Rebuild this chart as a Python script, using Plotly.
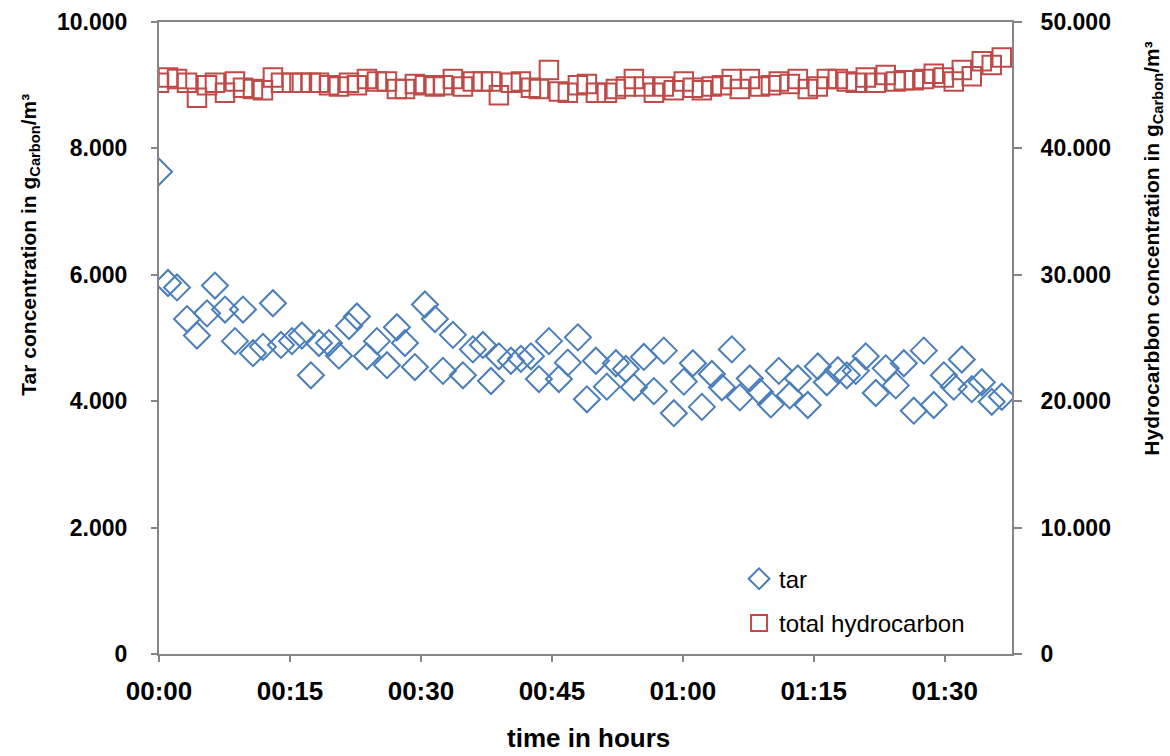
import plotly.graph_objects as go

# time of each sample in minutes after start
time_min = [0.00, 1.03, 2.06, 3.21, 4.35, 5.50, 6.41, 7.56, 8.70, 9.62,
            10.76, 11.91, 13.05, 13.97, 15.23, 16.37, 17.40, 18.32, 19.47, 20.61,
            21.76, 22.67, 23.82, 24.96, 26.11, 27.25, 28.17, 29.31, 30.46, 31.60,
            32.52, 33.66, 34.81, 35.95, 37.10, 38.02, 38.93, 40.31, 41.45, 42.60,
            43.51, 44.66, 45.80, 46.83, 47.98, 49.01, 50.04, 51.30, 52.33, 53.47,
            54.39, 55.53, 56.68, 57.82, 58.97, 60.11, 61.15, 62.18, 63.32, 64.47,
            65.61, 66.53, 67.67, 68.82, 70.08, 70.99, 72.25, 73.17, 74.31, 75.46,
            76.49, 77.75, 78.78, 79.81, 80.95, 82.10, 83.24, 84.39, 85.31, 86.45,
            87.60, 88.74, 89.89, 91.03, 91.95, 93.09, 94.24, 95.38, 96.53]

tar = [7.63, 5.87, 5.80, 5.30, 5.04, 5.39, 5.83, 5.45, 4.95, 5.45,
       4.76, 4.86, 5.55, 4.89, 4.95, 5.04, 4.41, 4.92, 4.92, 4.72,
       5.19, 5.34, 4.71, 4.95, 4.57, 5.17, 4.92, 4.54, 5.53, 5.30,
       4.48, 5.05, 4.41, 4.82, 4.89, 4.32, 4.71, 4.64, 4.67, 4.71,
       4.35, 4.95, 4.35, 4.61, 5.01, 4.03, 4.64, 4.23, 4.60, 4.51,
       4.22, 4.70, 4.16, 4.80, 3.81, 4.31, 4.60, 3.91, 4.43, 4.22,
       4.82, 4.06, 4.36, 4.15, 3.95, 4.48, 4.09, 4.36, 3.94, 4.55,
       4.30, 4.49, 4.41, 4.48, 4.71, 4.13, 4.52, 4.25, 4.60, 3.85,
       4.80, 3.94, 4.41, 4.23, 4.66, 4.19, 4.30, 3.99, 4.07]

hydrocarbon = [45.2, 45.6, 45.5, 45.2, 44.0, 45.0, 45.2, 44.4, 45.3, 44.8,
               44.7, 44.6, 45.6, 45.2, 45.2, 45.2, 45.2, 45.2, 45.0, 44.9,
               45.2, 45.0, 45.5, 45.3, 45.3, 44.7, 44.7, 45.1, 45.0, 44.9,
               45.0, 45.5, 44.9, 45.3, 45.3, 45.3, 44.2, 45.2, 45.3, 44.8,
               44.7, 46.2, 44.5, 44.4, 45.0, 45.1, 44.4, 44.4, 44.7, 44.9,
               45.5, 44.9, 44.4, 44.9, 44.6, 45.3, 44.8, 44.6, 44.9, 45.0,
               45.5, 44.7, 45.5, 44.9, 45.0, 45.3, 45.1, 45.5, 44.7, 44.9,
               45.5, 45.5, 45.3, 45.2, 45.6, 45.2, 45.8, 45.3, 45.4, 45.4,
               45.5, 45.9, 45.6, 45.3, 46.2, 45.7, 46.9, 46.6, 47.2]

x_tick_vals = [0, 15, 30, 45, 60, 75, 90]
x_tick_text = ["00:00", "00:15", "00:30", "00:45", "01:00", "01:15", "01:30"]
tar_tick_vals = [0, 2, 4, 6, 8, 10]
tar_tick_text = ["0", "2.000", "4.000", "6.000", "8.000", "10.000"]
hc_tick_vals = [0, 10, 20, 30, 40, 50]
hc_tick_text = ["0", "10.000", "20.000", "30.000", "40.000", "50.000"]

AXIS = "#868686"
BLUE = "#4A7EBB"
RED = "#BE4B48"
FONT = "Liberation Sans, Arial, sans-serif"

fig = go.Figure()
fig.add_trace(go.Scatter(
    x=time_min, y=tar, mode="markers", name="tar", legendgroup="a",
    marker=dict(symbol="diamond-open", size=20, color=BLUE, line=dict(width=2, color=BLUE)),
    yaxis="y"))
fig.add_trace(go.Scatter(
    x=time_min, y=hydrocarbon, mode="markers", name="total hydrocarbon", legendgroup="b",
    marker=dict(symbol="square-open", size=18.5, color=RED, line=dict(width=2, color=RED)),
    yaxis="y2"))

fig.update_layout(
    width=1170, height=756,
    margin=dict(l=159, r=158, t=22, b=102, autoexpand=False),
    paper_bgcolor="white", plot_bgcolor="white",
    showlegend=True,
    legend=dict(x=0.68, y=0.154, xanchor="left", yanchor="top",
                bgcolor="rgba(0,0,0,0)", traceorder="grouped", tracegroupgap=10,
                font=dict(family=FONT, size=24, color="black")),
    xaxis=dict(range=[0, 97.7], tickmode="array", tickvals=x_tick_vals, ticktext=x_tick_text,
               showline=True, linecolor=AXIS, linewidth=2, mirror=True, automargin=False,
               ticks="outside", ticklen=6, tickwidth=2, tickcolor=AXIS,
               showgrid=False, zeroline=False, ticklabelstandoff=7,
               tickfont=dict(family=FONT, size=26, color="black", weight="bold")),
    yaxis=dict(range=[0, 10], tickmode="array", tickvals=tar_tick_vals, ticktext=tar_tick_text,
               showline=True, linecolor=AXIS, linewidth=2, automargin=False,
               ticks="outside", ticklen=6, tickwidth=2, tickcolor=AXIS,
               showgrid=False, zeroline=False, ticklabelstandoff=19,
               tickfont=dict(family=FONT, size=23, color="black", weight="bold")),
    yaxis2=dict(range=[0, 50], tickmode="array", tickvals=hc_tick_vals, ticktext=hc_tick_text,
                overlaying="y", side="right", automargin=False,
                showline=True, linecolor=AXIS, linewidth=2,
                ticks="outside", ticklen=8, tickwidth=2, tickcolor=AXIS,
                showgrid=False, zeroline=False, ticklabelstandoff=14,
                tickfont=dict(family=FONT, size=23, color="black", weight="bold")),
    annotations=[
        dict(text="Tar concentration in g<sub>Carbon</sub>/m³", xref="paper", yref="paper",
             x=-0.151, y=0.648, xanchor="center", yanchor="middle", textangle=-90,
             showarrow=False, font=dict(family=FONT, size=21, color="black", weight="bold")),
        dict(text="Hydrocarbbon concentration in g<sub>Carbon</sub>/m³", xref="paper", yref="paper",
             x=1.165, y=0.641, xanchor="center", yanchor="middle", textangle=-90,
             showarrow=False, font=dict(family=FONT, size=21, color="black", weight="bold")),
        dict(text="time in hours", xref="paper", yref="paper",
             x=0.503, y=-0.133, xanchor="center", yanchor="middle",
             showarrow=False, font=dict(family=FONT, size=26, color="black", weight="bold")),
    ],
)

# remove the default page margin so the 1170x756 figure fills the window exactly
fig.write_html("out.html",
               config={"displayModeBar": False},
               post_script="document.body.style.margin='0';document.body.style.overflow='hidden';")
